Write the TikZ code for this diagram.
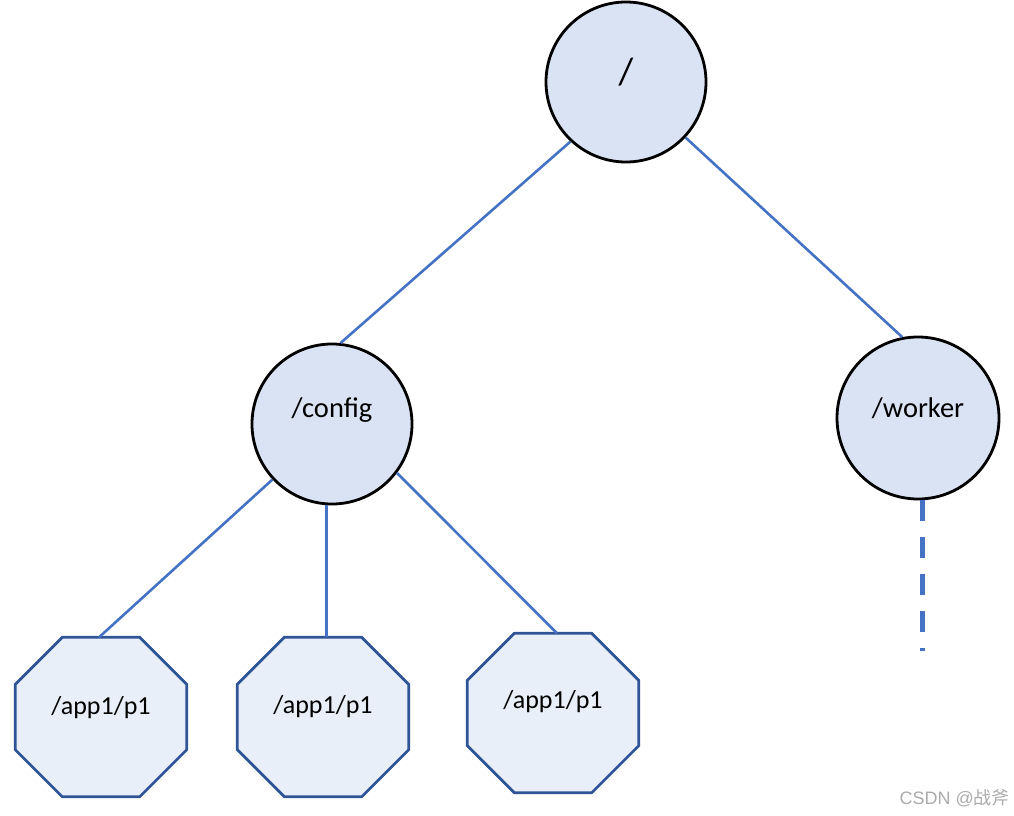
\documentclass[tikz,border=0pt]{standalone}
\usepackage{fontspec}
\setmainfont{Carlito}
\newfontfamily\cjk{Noto Sans CJK SC}
\newfontfamily\wmfont{Liberation Sans}
\usetikzlibrary{calc,backgrounds}
\definecolor{cCircFill}{HTML}{DAE3F3}
\definecolor{cOctFill}{HTML}{E9EFF8}
\definecolor{cOctLine}{HTML}{2F5597}
\definecolor{cEdge}{HTML}{4472C4}
\begin{document}
\begin{tikzpicture}[x=1pt,y=-1pt,
  circnode/.style={circle,draw=black,line width=2.8pt,fill=cCircFill,minimum size=160pt,inner sep=0pt},
  octnode/.style={rectangle,minimum width=171pt,minimum height=159pt,inner sep=0pt},
  txt/.style={font=\fontsize{28.5}{30}\selectfont},
  octtxt/.style={font=\fontsize{26}{28}\selectfont},
  conn/.style={draw=cEdge,line width=2.6pt},
  octborder/.style={draw=cOctLine,line width=2.7pt,fill=cOctFill,line join=miter}]
\useasboundingbox (0,0) rectangle (1014,816);

\node[circnode,label={[txt,font=\fontsize{38}{40}\selectfont,yshift=10pt]center:/}] (root) at (626,82) {};
\node[circnode,label={[txt,yshift=14pt]center:/config}] (config) at (332,424) {};
\node[circnode,minimum size=162pt,label={[txt,yshift=10pt]center:/worker}] (worker) at (918,418) {};

\node[octnode,label={[octtxt,yshift=9pt]center:/app1/p1}] (o1) at (101,717) {};
\node[octnode,label={[octtxt,yshift=10pt]center:/app1/p1}] (o2) at (323,717) {};
\node[octnode,label={[octtxt,yshift=11pt]center:/app1/p1}] (o3) at (553,713) {};

\begin{scope}[on background layer]
\foreach \n in {o1,o2,o3}
  \draw[octborder] ($(\n.north west)+(47,0)$) -- ($(\n.north east)+(-47,0)$)
    -- ($(\n.north east)+(0,47)$) -- ($(\n.south east)+(0,-47)$)
    -- ($(\n.south east)+(-47,0)$) -- ($(\n.south west)+(47,0)$)
    -- ($(\n.south west)+(0,-47)$) -- ($(\n.north west)+(0,47)$) -- cycle;
\end{scope}

\draw[conn] (root.227) -- (config.84);
\draw[conn] (root.317) -- (worker.101);
\draw[conn] (config.223) -- ($(o1.north)+(-2,0)$);
\draw[conn] (config.266) -- (config.266 |- o2.north);
\draw[conn] (config.323.6) -- ($(o3.north)+(4,0)$);

\coordinate (dend) at (922,651);
\draw[draw=cEdge,line width=4.5pt,dash pattern=on 21pt off 16pt] (worker.273) -- (worker.273 |- dend);

\node[anchor=east,text=black!33,inner sep=0pt] (wm) at (1010,798) {\wmfont\fontsize{18}{20}\selectfont CSDN @\cjk 战斧};
\end{tikzpicture}
\end{document}
